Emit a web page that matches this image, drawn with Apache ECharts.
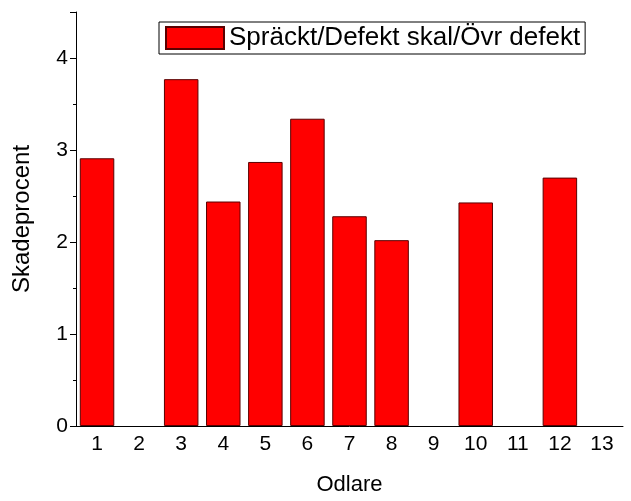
<!DOCTYPE html>
<html>
<head>
<meta charset="utf-8">
<script src="https://cdn.jsdelivr.net/npm/echarts@6/dist/echarts.min.js"></script>
<style>html,body{margin:0;padding:0;background:#fff}#chart{width:631px;height:501px}</style>
</head>
<body>
<div id="chart"></div>
<script>
// odlare 1..13, skadeprocent
const categories = ['1', '2', '3', '4', '5', '6', '7', '8', '9', '10', '11', '12', '13']
const values = [2.91, 0, 3.77, 2.44, 2.87, 3.34, 2.28, 2.02, 0, 2.43, 0, 2.70, 0]
const seriesName = 'Spräckt/Defekt skal/Övr defekt'

const chart = echarts.init(document.getElementById('chart'))
const font = 'Liberation Sans, Arial, sans-serif'
chart.setOption({
  animation: false,
  textStyle: { fontFamily: font },
  grid: { left: 76, right: 8, top: 12, bottom: 75, outerBoundsMode: 'none', containLabel: false },
  legend: {
    data: [{ name: seriesName, icon: 'rect' }],
    top: 22, left: 159,
    itemWidth: 58, itemHeight: 22, itemGap: 7,
    padding: [3, 5, 3, 6],
    borderColor: '#000', borderWidth: 1,
    textStyle: { fontSize: 26, color: '#000', fontFamily: font }
  },
  xAxis: {
    type: 'category',
    data: categories,
    name: 'Odlare', nameLocation: 'middle', nameGap: 48,
    nameTextStyle: { fontSize: 22, color: '#000' },
    axisLine: { lineStyle: { color: '#000', width: 1 } },
    axisTick: { alignWithLabel: true, length: 7, lineStyle: { color: '#000' } },
    axisLabel: { fontSize: 21, color: '#000', margin: 8 }
  },
  yAxis: {
    type: 'value', min: 0, max: 4.5, interval: 1,
    name: 'Skadeprocent', nameLocation: 'middle', nameGap: 42,
    nameTextStyle: { fontSize: 24, color: '#000' },
    axisLine: { show: true, lineStyle: { color: '#000', width: 1 } },
    axisTick: { show: true, length: 6, lineStyle: { color: '#000' } },
    minorTick: { show: true, splitNumber: 2, length: 3, lineStyle: { color: '#000' } },
    splitLine: { show: false },
    axisLabel: { fontSize: 21, color: '#000', showMaxLabel: false, margin: 8 }
  },
  series: [{
    name: seriesName,
    type: 'bar',
    data: values.map(v => (v === 0 ? '-' : v)),
    barCategoryGap: '18%',
    itemStyle: { color: '#ff0000', borderColor: '#5a0000', borderWidth: 1 }
  }]
})
</script>
</body>
</html>
